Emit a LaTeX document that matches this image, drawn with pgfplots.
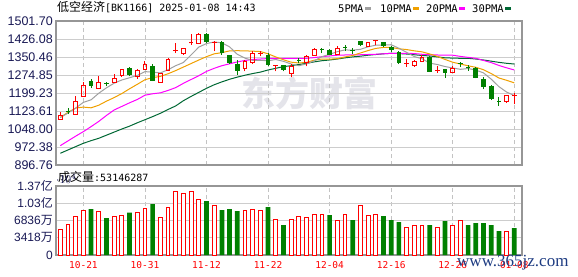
\documentclass[border=0pt]{standalone}
\usepackage{fontspec}
\setmainfont{Liberation Sans}
\newfontfamily\cjk{Noto Sans CJK SC}
\newfontfamily\dmono{DejaVu Sans Mono}
\newfontfamily\lserif{Liberation Serif}
\usepackage{pgfplots}
\pgfplotsset{compat=1.18}
\definecolor{cred}{RGB}{255,0,0}
\definecolor{cgreen}{RGB}{0,128,0}
\definecolor{maA}{RGB}{160,160,160}
\definecolor{maB}{RGB}{240,160,0}
\definecolor{maC}{RGB}{255,0,255}
\definecolor{maD}{RGB}{0,104,52}
\definecolor{frame}{RGB}{150,150,150}
\definecolor{gridh}{RGB}{205,205,205}
\definecolor{gridv}{RGB}{195,195,195}
\definecolor{labcol}{RGB}{25,25,85}
\definecolor{wmgray}{RGB}{228,228,234}
\definecolor{wwwblue}{RGB}{30,60,130}
\begin{document}
\begin{tikzpicture}
\useasboundingbox (0pt,0pt) rectangle (578pt,-276pt);
% watermark
\node[text=wmgray, inner sep=0pt, font=\cjk\bfseries\fontsize{34}{34}\selectfont] at (309pt,-93pt) {东方财富};
% title and legend
\node[anchor=base west, inner sep=0pt] at (57pt,-11.7pt) {{\cjk\fontsize{12}{14}\selectfont 低空经济}{\dmono\fontsize{10}{12}\selectfont [BK1166] 2025-01-08 14:43}};
\node[anchor=base west, inner sep=0pt, font=\dmono\fontsize{10.5}{12}\selectfont] at (338pt,-12.3pt) {5PMA\hspace{1.7pt}\textcolor{maA}{\rule[2.7pt]{5.5pt}{2.8pt}}};
\node[anchor=base west, inner sep=0pt, font=\dmono\fontsize{10.5}{12}\selectfont] at (380pt,-12.3pt) {10PMA\hspace{1.5pt}\textcolor{maB}{\rule[2.7pt]{5.5pt}{2.8pt}}};
\node[anchor=base west, inner sep=0pt, font=\dmono\fontsize{10.5}{12}\selectfont] at (426pt,-12.3pt) {20PMA\hspace{1.5pt}\textcolor{maC}{\rule[2.7pt]{5.5pt}{2.8pt}}};
\node[anchor=base west, inner sep=0pt, font=\dmono\fontsize{10.5}{12}\selectfont] at (472pt,-12.3pt) {30PMA\hspace{1.5pt}\textcolor{maD}{\rule[2.7pt]{5.5pt}{2.8pt}}};
\node[anchor=base west, inner sep=0pt] at (58pt,-181pt) {{\cjk\fontsize{12}{14}\selectfont 成交量}{\dmono\fontsize{10}{12}\selectfont :53146287}};

% ================= price panel =================
\begin{axis}[
  at={(56pt,-165pt)}, anchor=south west,
  width=466pt, height=144pt, scale only axis,
  xmin=-0.56, xmax=60, ymin=896.7, ymax=1501.8,
  unbounded coords=jump,
  ytick={896.76,972.38,1048.00,1123.61,1199.23,1274.85,1350.46,1426.08,1501.70},
  yticklabels={896.76,972.38,1048.00,1123.61,1199.23,1274.85,1350.46,1426.08,1501.70},
  xtick={3,11,19,27,35,43,51,59}, xticklabels={},
  major tick length=0pt,
  xmajorgrids, ymajorgrids,
  x grid style={color=gridv, line width=0.8pt, dash pattern=on 4pt off 3pt},
  y grid style={color=gridh, line width=0.8pt},
  axis line style={draw=frame, line width=1.2pt},
  yticklabel style={font=\fontsize{12.5}{14}\selectfont, text=labcol, inner sep=0pt, xshift=-3pt},
]
% moving averages
\addplot[maD, line width=1pt] coordinates {(0,946)(1,960)(2,974)(3,988)(4,999)(5,1009)(6,1022)(7,1035)(8,1048)(9,1060)(10,1074)(11,1087)(12,1100)(13,1114)(14,1130)(15,1145)(16,1167)(17,1185)(18,1202)(19,1219)(20,1234)(21,1246)(22,1257)(23,1266)(24,1274)(25,1281)(26,1287)(27,1296)(28,1303)(29,1310)(30,1314)(31,1319)(32,1324)(33,1330)(34,1335)(35,1338)(36,1342)(37,1347)(38,1351)(39,1354)(40,1358)(41,1361)(42,1364)(43,1366)(44,1365)(45,1363)(46,1360)(47,1357)(48,1355)(49,1351)(50,1347)(51,1346)(52,1345)(53,1345)(54,1342)(55,1338)(56,1333)(57,1328)(58,1324)(59,1321)};
\addplot[maC, line width=1pt] coordinates {(0,978)(1,998)(2,1018)(3,1037)(4,1058)(5,1080)(6,1105)(7,1128)(8,1143)(9,1158)(10,1172)(11,1190)(12,1196)(13,1200)(14,1210)(15,1222)(16,1240)(17,1256)(18,1272)(19,1290)(20,1303)(21,1314)(22,1322)(23,1330)(24,1336)(25,1340)(26,1342)(27,1344)(28,1345)(29,1345)(30,1345)(31,1345)(32,1345)(33,1348)(34,1352)(35,1355)(36,1358)(37,1359)(38,1359)(39,1360)(40,1361)(41,1362)(42,1364)(43,1366)(44,1366)(45,1366)(46,1365)(47,1362)(48,1360)(49,1359)(50,1358)(51,1358)(52,1353)(53,1349)(54,1345)(55,1336)(56,1327)(57,1315)(58,1305)(59,1296)};
\addplot[maB, line width=1pt] coordinates {(0,1097)(1,1118)(2,1136)(3,1140)(4,1137)(5,1148)(6,1165)(7,1180)(8,1197)(9,1217.0)(10,1235.7)(11,1255.1)(12,1263.8)(13,1268.9)(14,1280.1)(15,1293.6)(16,1308.3)(17,1323.1)(18,1337.9)(19,1351.9)(20,1363.9)(21,1368.8)(22,1376.2)(23,1377.0)(24,1376.3)(25,1375.1)(26,1373.4)(27,1363.9)(28,1350.8)(29,1338.9)(30,1328.8)(31,1325.3)(32,1328.1)(33,1337.2)(34,1342.1)(35,1341.4)(36,1343.5)(37,1350.9)(38,1356.9)(39,1367.4)(40,1377.6)(41,1386.6)(42,1390.8)(43,1390.7)(44,1385.1)(45,1381.8)(46,1376.4)(47,1372.3)(48,1363.4)(49,1353.2)(50,1340.3)(51,1328.5)(52,1321.0)(53,1313.5)(54,1307.2)(55,1297.0)(56,1281.0)(57,1262.3)(58,1252.7)(59,1242.0)};
\addplot[maA, line width=1pt] coordinates {(0,1096)(1,1115)(2,1136)(3,1160)(4,1170.6)(5,1198.3)(6,1221.1)(7,1240.6)(8,1254.1)(9,1263.3)(10,1273.1)(11,1289.1)(12,1286.9)(13,1283.8)(14,1296.9)(15,1314.1)(16,1327.5)(17,1359.3)(18,1392.1)(19,1407.0)(20,1413.7)(21,1410.1)(22,1393.1)(23,1361.8)(24,1345.6)(25,1336.5)(26,1336.7)(27,1334.7)(28,1339.9)(29,1332.3)(30,1321.1)(31,1313.9)(32,1321.5)(33,1334.5)(34,1352.0)(35,1361.7)(36,1373.0)(37,1380.3)(38,1379.3)(39,1382.8)(40,1393.5)(41,1400.2)(42,1401.3)(43,1402.1)(44,1387.4)(45,1370.1)(46,1352.5)(47,1343.3)(48,1324.8)(49,1318.9)(50,1310.4)(51,1304.5)(52,1298.7)(53,1302.2)(54,1295.5)(55,1283.7)(56,1257.4)(57,1226.0)(58,1203.2)(59,1188.5)};
% green wicks
\addplot[cgreen, line width=1pt] coordinates {
(1,1111)(1,1136)(1,nan) (4,1220)(4,1258)(4,nan) (6,1227)(6,1245.4)(6,nan) (9,1269.5)(9,1307)(9,nan)
(12,1249.6)(12,1322.3)(12,nan) (19,1409.3)(19,1452.5)(19,nan) (21,1360.2)(21,1416.4)(21,nan)
(22,1321)(22,1360.2)(22,nan) (23,1276.1)(23,1336.6)(23,nan) (27,1311.4)(27,1367.3)(27,nan)
(29,1290)(29,1318)(29,nan) (31,1324)(31,1345)(31,nan) (34,1367.3)(34,1388.3)(34,nan)
(35,1358)(35,1383)(35,nan) (37,1377)(37,1402.1)(37,nan) (38,1364.3)(38,1388.3)(38,nan)
(39,1395.4)(39,1419)(39,nan) (42,1391.2)(42,1414)(42,nan) (43,1372.7)(43,1395.4)(43,nan)
(44,1321)(44,1375.7)(44,nan) (48,1287)(48,1354.7)(48,nan) (50,1263.5)(50,1300)(50,nan)
(52,1309.7)(52,1330.7)(52,nan) (53,1293)(53,1315.6)(53,nan) (54,1261)(54,1307)(54,nan)
(55,1214.8)(55,1265.2)(55,nan) (56,1169.8)(56,1232.8)(56,nan) (57,1145.9)(57,1181.2)};
% green bodies
\addplot[cgreen, line width=4.7pt] coordinates {
(1,1125)(1,1121)(1,nan) (4,1250.9)(4,1227.4)(4,nan) (6,1241)(6,1237)(6,nan) (9,1304.3)(9,1273.6)(9,nan)
(12,1311.4)(12,1250.9)(12,nan) (19,1448.3)(19,1413.5)(19,nan) (21,1413.5)(21,1367.3)(21,nan)
(22,1357.6)(22,1325.3)(22,nan) (23,1321)(23,1290.4)(23,nan) (27,1360.2)(27,1315.6)(27,nan)
(29,1315.6)(29,1294.6)(29,nan) (31,1336)(31,1332)(31,nan) (34,1386)(34,1382)(34,nan)
(35,1381.1)(35,1360.2)(35,nan) (37,1394)(37,1390)(37,nan) (38,1380)(38,1376)(38,nan)
(39,1416.4)(39,1399.6)(39,nan) (42,1413.5)(42,1395.4)(42,nan) (43,1391.2)(43,1379.9)(43,nan)
(44,1370.2)(44,1326.5)(44,nan) (48,1351.7)(48,1287.5)(48,nan) (50,1298.8)(50,1284.5)(50,nan)
(52,1324)(52,1320)(52,nan) (53,1309)(53,1305)(53,nan) (54,1303)(54,1263.5)(54,nan)
(55,1258)(55,1225.7)(55,nan) (56,1228.6)(56,1172.8)(56,nan) (57,1167)(57,1163)};
% red wicks
\addplot[cred, line width=1pt] coordinates {
(0,1105.5)(0,1119.4)(0,nan) (0,1088)(0,1090)(0,nan) (2,1164.4)(2,1185.4)(2,nan)
(3,1231.6)(3,1244.2)(3,nan) (5,1244)(5,1269.4)(5,nan) (7,1262.2)(7,1279)(7,nan)
(8,1267.7)(8,1273.6)(8,nan) (10,1293)(10,1301.3)(10,nan) (10,1259)(10,1269.4)(10,nan)
(11,1318.1)(11,1332.4)(11,nan) (14,1339.1)(14,1345)(14,nan) (16,1360)(16,1367.3)(16,nan)
(18,1447.1)(18,1451.3)(18,nan) (24,1332.4)(24,1336.6)(24,nan) (24,1290.4)(24,1301.3)(24,nan)
(25,1367.3)(25,1377)(25,nan) (25,1321)(25,1329.5)(25,nan) (30,1311.4)(30,1322.3)(30,nan)
(30,1265.2)(30,1283.2)(30,nan) (32,1353.4)(32,1360.2)(32,nan) (32,1311.4)(32,1328.2)(32,nan)
(33,1381.1)(33,1388.3)(33,nan) (36,1388.3)(36,1395.4)(36,nan) (46,1333.7)(46,1337.9)(46,nan)
(46,1309.7)(46,1313.9)(46,nan) (47,1349.2)(47,1357.6)(47,nan) (51,1304.3)(51,1312.7)(51,nan)
(58,1158.5)(58,1162.7)(58,nan) (15,1367.3)(15,1409.3)(15,nan) (17,1402.1)(17,1447.1)(17,nan)
(20,1374.4)(20,1416.4)(20,nan) (26,1353.4)(26,1377)(26,nan) (28,1290.4)(28,1318.5)(28,nan)
(41,1399.6)(41,1422)(41,nan) (45,1309.7)(45,1340.8)(45,nan) (49,1284.5)(49,1312.7)(49,nan)
(59,1151.8)(59,1198)};
% red doji bodies
\addplot[cred, line width=4.7pt] coordinates {
(15,1377)(15,1381)(15,nan) (17,1408)(17,1412)(17,nan) (20,1410)(20,1414)(20,nan)
(26,1365)(26,1369)(26,nan) (28,1314)(28,1318)(28,nan) (41,1417)(41,1421.9)(41,nan)
(45,1323)(45,1327)(45,nan) (49,1293)(49,1297)(49,nan) (59,1186)(59,1190)};
% red hollow bodies
\addplot[cred, line width=1pt, line cap=rect, line join=miter] coordinates {
(-0.24,1090)(0.24,1090)(0.24,1105.5)(-0.24,1105.5)(-0.24,1090)(0,nan)
(1.76,1111)(2.24,1111)(2.24,1164.4)(1.76,1164.4)(1.76,1111)(2,nan)
(2.76,1185.4)(3.24,1185.4)(3.24,1231.6)(2.76,1231.6)(2.76,1185.4)(3,nan)
(4.76,1219)(5.24,1219)(5.24,1244)(4.76,1244)(4.76,1219)(5,nan)
(6.76,1245.4)(7.24,1245.4)(7.24,1262.2)(6.76,1262.2)(6.76,1245.4)(7,nan)
(7.76,1273.6)(8.24,1273.6)(8.24,1298.8)(7.76,1298.8)(7.76,1273.6)(8,nan)
(9.76,1269.4)(10.24,1269.4)(10.24,1293)(9.76,1293)(9.76,1269.4)(10,nan)
(10.76,1297.2)(11.24,1297.2)(11.24,1318.1)(10.76,1318.1)(10.76,1297.2)(11,nan)
(12.76,1245.4)(13.24,1245.4)(13.24,1283.2)(12.76,1283.2)(12.76,1245.4)(13,nan)
(13.76,1293)(14.24,1293)(14.24,1339.1)(13.76,1339.1)(13.76,1293)(14,nan)
(15.76,1367.3)(16.24,1367.3)(16.24,1385.3)(15.76,1385.3)(15.76,1367.3)(16,nan)
(17.76,1406.3)(18.24,1406.3)(18.24,1447.1)(17.76,1447.1)(17.76,1406.3)(18,nan)
(23.76,1301.3)(24.24,1301.3)(24.24,1332.4)(23.76,1332.4)(23.76,1301.3)(24,nan)
(24.76,1329.5)(25.24,1329.5)(25.24,1367.3)(24.76,1367.3)(24.76,1329.5)(25,nan)
(29.76,1283.2)(30.24,1283.2)(30.24,1311.4)(29.76,1311.4)(29.76,1283.2)(30,nan)
(31.76,1328.2)(32.24,1328.2)(32.24,1353.4)(31.76,1353.4)(31.76,1328.2)(32,nan)
(32.76,1357.6)(33.24,1357.6)(33.24,1381.1)(32.76,1381.1)(32.76,1357.6)(33,nan)
(35.76,1360.2)(36.24,1360.2)(36.24,1388.3)(35.76,1388.3)(35.76,1360.2)(36,nan)
(39.76,1395.4)(40.24,1395.4)(40.24,1413.5)(39.76,1413.5)(39.76,1395.4)(40,nan)
(45.76,1313.9)(46.24,1313.9)(46.24,1333.7)(45.76,1333.7)(45.76,1313.9)(46,nan)
(46.76,1330.7)(47.24,1330.7)(47.24,1349.2)(46.76,1349.2)(46.76,1330.7)(47,nan)
(50.76,1286.2)(51.24,1286.2)(51.24,1304.3)(50.76,1304.3)(50.76,1286.2)(51,nan)
(57.76,1162.7)(58.24,1162.7)(58.24,1190.8)(57.76,1190.8)(57.76,1162.7)};
\end{axis}

% ================= volume panel =================
\begin{axis}[
  at={(56pt,-255pt)}, anchor=south west,
  width=466pt, height=69pt, scale only axis,
  xmin=-0.56, xmax=60, ymin=0, ymax=13673,
  ytick={0,3418,6836,10254,13672},
  yticklabels={0,3418{\cjk 万},6836{\cjk 万},1.03{\cjk 亿},1.37{\cjk 亿}},
  xtick={3,11,19,27,35,43,51,59},
  xticklabels={10-21,10-31,11-12,11-22,12-04,12-16,12-26,01-08},
  major tick length=0pt,
  xmajorgrids, ymajorgrids,
  x grid style={color=gridv, line width=0.8pt, dash pattern=on 4pt off 3pt},
  y grid style={color=gridh, line width=0.8pt},
  axis line style={draw=frame, line width=1.2pt},
  yticklabel style={font=\fontsize{12}{14}\selectfont, text=labcol, inner sep=0pt, xshift=-3pt},
  xticklabel style={font=\dmono\fontsize{9.5}{11}\selectfont, text=cred, yshift=-3pt},
]
\addplot[ybar, bar width=3.8pt, bar shift=0pt, draw=cred, fill=white, line width=1pt] coordinates {
(0,5091)(1,6141)(2,7726)(3,8915)(5,8716)(7,7726)(8,7924)(10,8518)(11,9311)(13,7528)(14,9509)
(15,12678)(16,12282)(17,12678)(18,11094)(20,9905)(24,8915)(25,9113)(26,8915)(28,7132)(30,7072)
(31,7726)(32,7528)(33,8122)(34,8122)(36,6934)(37,8122)(39,9905)(40,7924)(41,8122)(45,5547)
(46,5943)(47,5943)(49,5547)(51,5943)(52,6934)(58,4754)};
\addplot[ybar, bar width=4.7pt, bar shift=0pt, draw=none, fill=cgreen] coordinates {
(4,9113)(6,7330)(9,8387)(12,10103)(19,10697)(21,8915)(22,9113)(23,8716)(27,9509)(29,5943)
(35,7924)(38,6934)(42,7726)(43,6934)(44,6537)(48,5943)(50,6735)(53,5943)(54,6339)(55,6339)
(56,5943)(57,4754)(59,5315)};
\end{axis}
\node[anchor=base west, inner sep=0pt, text=wwwblue, font=\lserif\fontsize{17}{17}\selectfont] at (457pt,-266pt) {www.365jz.com};
\end{tikzpicture}
\end{document}
